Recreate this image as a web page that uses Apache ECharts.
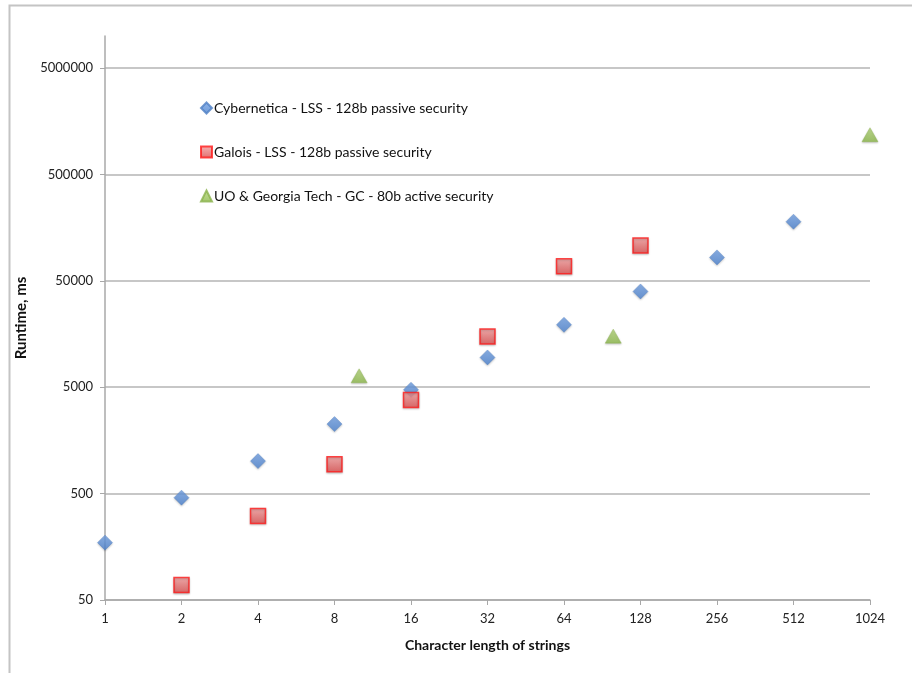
<!DOCTYPE html>
<html>
<head>
<meta charset="utf-8">
<script src="https://cdn.jsdelivr.net/npm/echarts@6/dist/echarts.min.js"></script>
<style>
html,body{margin:0;padding:0;background:#fff;}
#chart{width:912px;height:673px;}
</style>
</head>
<body>
<div id="chart"></div>
<script>
// ---- data ----
const seriesNames = [
  'Cybernetica - LSS - 128b passive security',
  'Galois - LSS - 128b passive security',
  'UO & Georgia Tech - GC - 80b active security'
];
const cyberX = [1, 2, 4, 8, 16, 32, 64, 128, 256, 512];
const cyberY = [173, 458, 1010, 2250, 4730, 9520, 19300, 39700, 83000, 179700];
const galoisX = [2, 4, 8, 16, 32, 64, 128];
const galoisY = [69, 308, 946, 3800, 15000, 68400, 107600];
const uoX = [10, 100, 1024];
const uoY = [6400, 15100, 1180000];
const xTicks = [1, 2, 4, 8, 16, 32, 64, 128, 256, 512, 1024];
const yTicks = [50, 500, 5000, 50000, 500000, 5000000];
const xTitle = 'Character length of strings';
const yTitle = 'Runtime, ms';

const pairs = (xs, ys) => xs.map((x, i) => [x, ys[i]]);

const chart = echarts.init(document.getElementById('chart'));
const font = 'Lato, "Open Sans", sans-serif';
chart.setOption({
  animation: false,
  backgroundColor: '#fff',
  textStyle: { fontFamily: font },
  graphic: [{
    type: 'rect', left: 7, top: 3, silent: true,
    shape: { width: 1000, height: 1000 },
    style: { fill: 'none', stroke: '#c4c4c4', lineWidth: 2 }
  }],
  grid: { left: 105, right: 42, top: 36, bottom: 73 },
  legend: {
    orient: 'vertical', left: 195, top: 96, itemGap: 30,
    itemWidth: 11, itemHeight: 11,
    textStyle: { fontSize: 14, color: '#111', fontFamily: font, padding: [0, 0, 0, -3] },
    data: seriesNames
  },
  xAxis: {
    type: 'log', logBase: 2, min: 1, max: 1024, interval: 1,
    name: xTitle, nameLocation: 'middle', nameGap: 38,
    nameTextStyle: { fontSize: 14, fontWeight: 'bold', color: '#111', fontFamily: font },
    axisLine: { lineStyle: { color: '#a8a8a8', width: 1.5 } },
    axisTick: { show: true, length: 5, lineStyle: { color: '#a8a8a8' } },
    axisLabel: { fontSize: 13, color: '#222', margin: 12, customValues: xTicks,
      formatter: v => String(Math.round(v)) },
    splitLine: { show: false },
    minorTick: { show: false }
  },
  yAxis: {
    type: 'log', logBase: 10, min: 50, max: 10000000,
    name: yTitle, nameLocation: 'middle', nameGap: 76, nameRotate: 90,
    nameTextStyle: { fontSize: 15, fontWeight: 'bold', color: '#111', fontFamily: font },
    axisLine: { show: true, lineStyle: { color: '#a8a8a8', width: 1.5 } },
    axisTick: { show: true, length: 5, lineStyle: { color: '#a8a8a8' }, customValues: yTicks },
    axisLabel: { fontSize: 13, color: '#222', margin: 12, customValues: yTicks,
      formatter: v => String(Math.round(v)) },
    splitLine: { show: true, lineStyle: { color: '#b4b4b4', width: 1.5 } }
  },
  series: [
    {
      name: seriesNames[0], type: 'scatter', symbol: 'diamond', symbolSize: 15,
      itemStyle: {
        color: new echarts.graphic.LinearGradient(0, 0, 0, 1, [
          { offset: 0, color: '#74a3e6' }, { offset: 1, color: '#4a80cc' }]),
        borderColor: '#4f7fc4', borderWidth: 0.5,
        shadowColor: 'rgba(0,0,0,0.25)', shadowBlur: 2, shadowOffsetY: 1
      },
      data: pairs(cyberX, cyberY)
    },
    {
      name: seriesNames[1], type: 'scatter', symbol: 'rect', symbolSize: 15,
      itemStyle: {
        color: new echarts.graphic.LinearGradient(0, 0, 0, 1, [
          { offset: 0, color: '#f3a0a0' }, { offset: 1, color: '#d94a4a' }]),
        borderColor: '#ff1a1a', borderWidth: 1.5,
        shadowColor: 'rgba(0,0,0,0.25)', shadowBlur: 2, shadowOffsetY: 1
      },
      data: pairs(galoisX, galoisY)
    },
    {
      name: seriesNames[2], type: 'scatter', symbol: 'triangle', symbolSize: [16, 14],
      itemStyle: {
        color: new echarts.graphic.LinearGradient(0, 0, 0, 1, [
          { offset: 0, color: '#b5d77a' }, { offset: 1, color: '#8cb84a' }]),
        borderColor: '#8ab24c', borderWidth: 0.5,
        shadowColor: 'rgba(0,0,0,0.25)', shadowBlur: 2, shadowOffsetY: 1
      },
      data: pairs(uoX, uoY)
    }
  ]
});
</script>
</body>
</html>
